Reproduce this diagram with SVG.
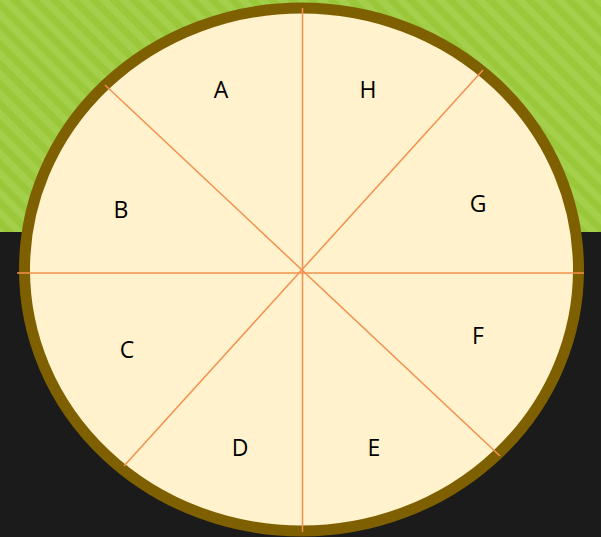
<svg xmlns="http://www.w3.org/2000/svg" width="601" height="537" viewBox="0 0 601 537">
<defs>
<pattern id="stripes" patternUnits="userSpaceOnUse" width="14" height="14" patternTransform="rotate(-45)">
<rect width="14" height="14" fill="#9ac83a"/>
<rect width="7" height="14" fill="#a3cf4a"/>
</pattern>
<style>
.div{stroke:#f3904e;stroke-width:1.5;fill:none}
.lbl{font-family:"Open Sans","Liberation Sans",sans-serif;font-size:23px;fill:#000;text-anchor:middle}
</style>
</defs>
<rect x="0" y="0" width="601" height="232" fill="url(#stripes)"/>
<rect x="0" y="232" width="601" height="305" fill="#1b1b1b"/>
<g id="circle">
<ellipse cx="301.5" cy="269.5" rx="277" ry="261.5" fill="#fff2cc" stroke="#7f6000" stroke-width="11"/>
</g>
<g id="connectors">
<line class="div" x1="17" y1="273" x2="584" y2="273"/>
<line class="div" x1="302.5" y1="8" x2="302.5" y2="532"/>
<line class="div" x1="105" y1="85" x2="500" y2="456"/>
<line class="div" x1="483" y1="70" x2="124" y2="466"/>
</g>
<g id="A"><text class="lbl" x="221" y="98">A</text></g>
<g id="H"><text class="lbl" x="368" y="98">H</text></g>
<g id="B"><text class="lbl" x="121" y="218">B</text></g>
<g id="G"><text class="lbl" x="478" y="212">G</text></g>
<g id="C"><text class="lbl" x="127" y="358">C</text></g>
<g id="F"><text class="lbl" x="478" y="344">F</text></g>
<g id="D"><text class="lbl" x="240" y="456">D</text></g>
<g id="E"><text class="lbl" x="374" y="456">E</text></g>
</svg>
